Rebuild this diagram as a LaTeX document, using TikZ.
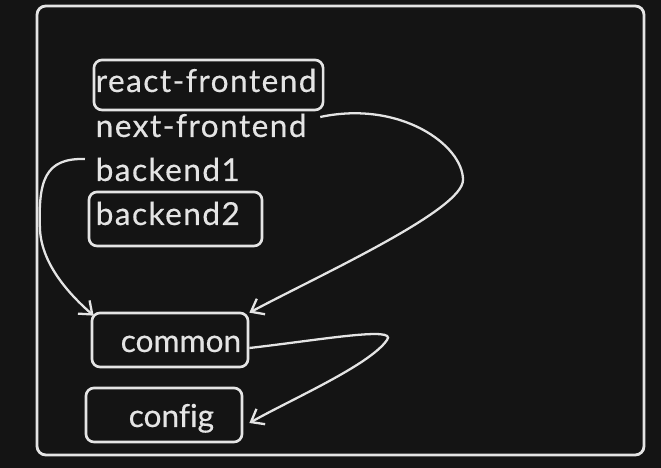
\documentclass[tikz,border=0pt]{standalone}
\usepackage{fontspec}
\setmainfont{Lato}[Ligatures=NoCommon,FakeBold=0.4]
\newfontfamily\spacedfont{Lato}[Ligatures=NoCommon,LetterSpace=4.5,FakeBold=0.4]
\usetikzlibrary{arrows.meta}
\definecolor{bgdark}{HTML}{141414}
\definecolor{chalk}{HTML}{E4E4E4}

\begin{document}
\begin{tikzpicture}[x=0.01cm,y=-0.01cm,
    pkg/.style={draw=chalk,line width=0.75pt,rounded corners=2.3pt,inner sep=0pt},
    pkgname/.style={text=chalk,anchor=base west,inner sep=0pt,font=\fontsize{9}{11}\selectfont},
    spaced/.style={font=\fontsize{9}{11}\spacedfont},
    dep/.style={draw=chalk,line width=0.65pt,-{Straight Barb[length=3.2pt,width=5pt]}}]
        \fill[bgdark] (0,0) rectangle (661,468);
        \useasboundingbox (0,0) rectangle (661,468);
        \draw[chalk,line width=0.8pt,rounded corners=2.5pt] (37,6) rectangle (644,455);
        % packages
        \node[pkg,minimum width=2.29cm,minimum height=0.5cm] (reactbox) at (208.5,85) {};
        \node[pkgname,spaced] (react) at (95,92) {react-frontend};
        \node[pkgname,spaced] (next) at (95,137) {next-frontend};
        \node[pkgname,spaced] (backend1) at (95,181) {backend1};
        \node[pkg,minimum width=1.73cm,minimum height=0.54cm] (backend2box) at (175.5,219) {};
        \node[pkgname,spaced] (backend2) at (95,225) {backend2};
        \node[pkg,minimum width=1.56cm,minimum height=0.54cm] (commonbox) at (170,340) {};
        \node[pkgname] (common) at (120,352) {common};
        \node[pkg,minimum width=1.56cm,minimum height=0.54cm] (configbox) at (164,415) {};
        \node[pkgname] (config) at (128,427) {config};
        % dependencies
        \draw[dep] ([xshift=0.13cm,yshift=-0.04cm]next.north east) .. controls (400,100) and (463,145) .. (463,180)
            .. controls (463,210) and (320,275) .. ([yshift=-0.01cm]commonbox.north east);
        \draw[dep] ([xshift=-0.1cm,yshift=-0.02cm]backend1.north west) .. controls (45,158) and (38,180) .. (40,230)
            .. controls (42,265) and (70,295) .. ([xshift=0.03cm,yshift=-0.04cm]commonbox.north west);
        \draw[dep] ([yshift=-0.08cm]commonbox.east) .. controls (320,340) and (398,326) .. (387,340)
            .. controls (370,365) and (290,400) .. ([xshift=0.06cm,yshift=-0.08cm]configbox.east);
    \end{tikzpicture}
\end{document}
